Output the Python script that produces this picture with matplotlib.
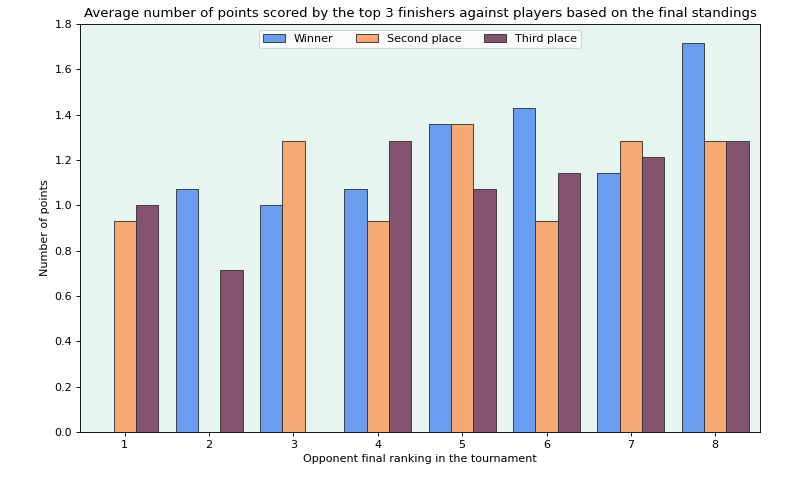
import numpy as np
import matplotlib
matplotlib.use("Agg")
import matplotlib.pyplot as plt

rankings = [1, 2, 3, 4, 5, 6, 7, 8]
# np.nan where the player would face themselves
winner = [np.nan, 1.071, 1.0, 1.071, 1.357, 1.429, 1.143, 1.714]
second = [0.929, np.nan, 1.286, 0.929, 1.357, 0.929, 1.286, 1.286]
third = [1.0, 0.714, np.nan, 1.286, 1.071, 1.143, 1.214, 1.286]

series = [
    ("Winner", winner, "#6a9cf0"),
    ("Second place", second, "#f7a974"),
    ("Third place", third, "#845370"),
]

fig, ax = plt.subplots(figsize=(10, 6), dpi=80)
fig.subplots_adjust(left=0.1, right=0.95, bottom=0.1, top=0.95)
ax.set_facecolor("#e6f5ef")

x = np.array(rankings)
width = 0.265
for i, (label, vals, color) in enumerate(series):
    ax.bar(x + (i - 1) * width, vals, width, label=label, color=color,
           edgecolor="#333333", linewidth=0.8)

ax.set_xticks(rankings)
ax.set_xlim(0.47, 8.53)
ax.set_ylim(0, 1.8)
ax.set_xlabel("Opponent final ranking in the tournament")
ax.set_ylabel("Number of points")
ax.set_title("Average number of points scored by the top 3 finishers against players based on the final standings")
ax.legend(loc="upper center", ncol=3)

plt.savefig("out.png", dpi=80)
